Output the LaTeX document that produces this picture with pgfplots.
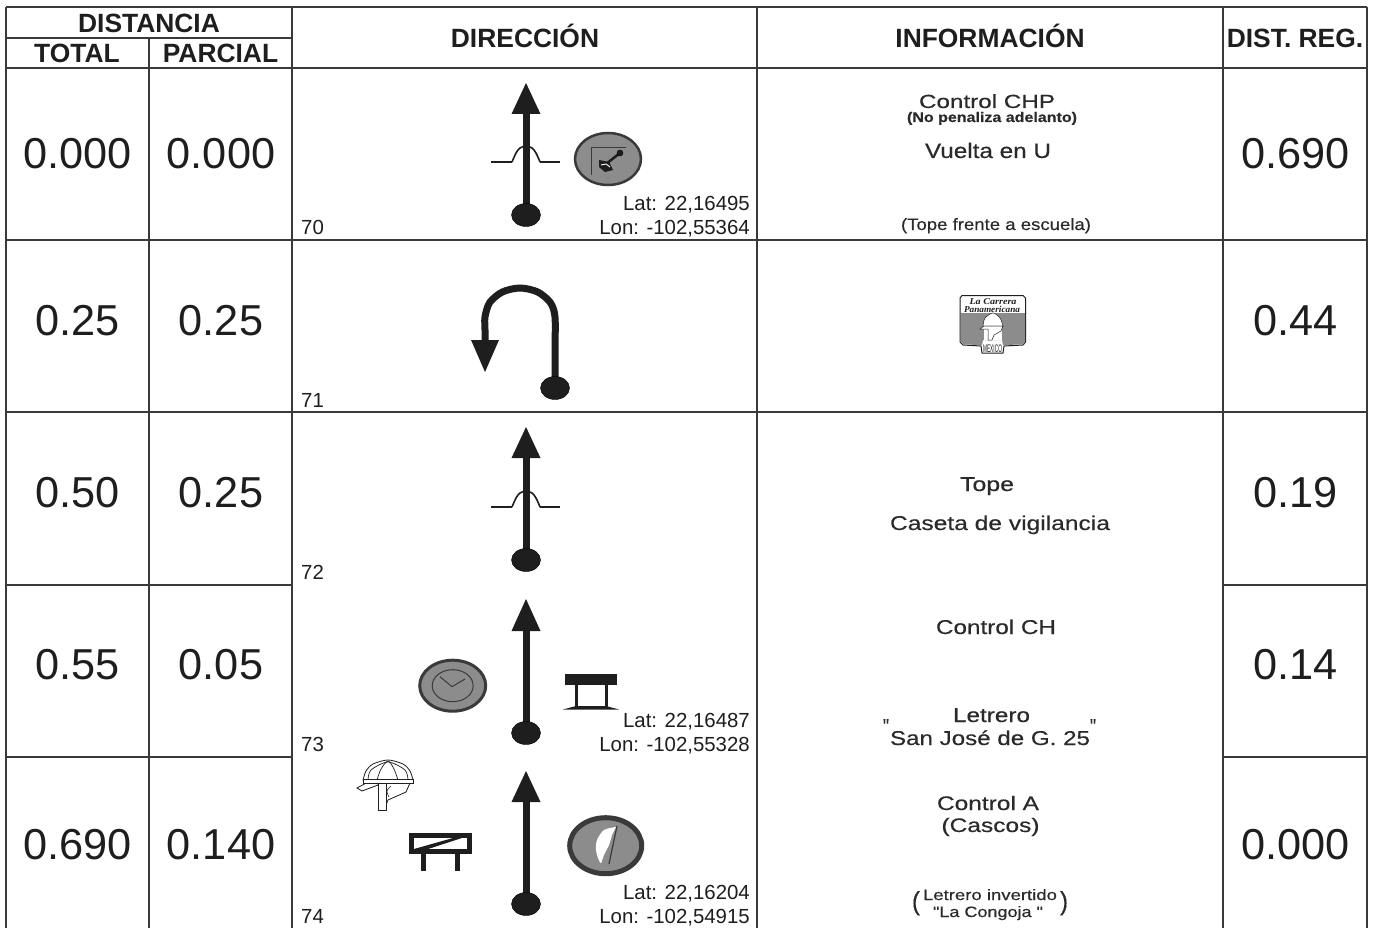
\documentclass[border=0pt]{standalone}
\usepackage{pgfplots}
\usepackage{graphicx}
\usepackage{fontspec}
\setmainfont{Liberation Sans}
\newfontfamily\serifit{Liberation Serif}
\newfontfamily\medf[FakeBold=0.35]{Liberation Sans}
\pgfplotsset{compat=1.18}
\definecolor{gridc}{HTML}{3A3A3A}
\definecolor{ink}{HTML}{1E1E1E}
\definecolor{badge}{HTML}{8C8C8C}
\definecolor{txt}{HTML}{2A2A2A}
\newcommand{\rbSeg}[1]{\addplot[gridc,line width=1.4pt] coordinates {#1};}
\newcommand{\rbFill}[2][]{\addplot[fill=ink,draw=none,#1] coordinates {#2} --cycle;}
\newcommand{\rbLine}[2][]{\addplot[ink,line width=1pt,#1] coordinates {#2};}
\newcommand{\rbBlob}[2]{\addplot[only marks,mark=*,mark size=11.5pt,mark options={xscale=1.26,fill=ink,draw=none}] coordinates {(#1,#2)};}
\newcommand{\rbOval}[6]{\addplot[only marks,mark=*,mark size=#4pt,mark options={xscale=#3/#4,fill=#5,draw=gridc,line width=#6pt}] coordinates {(#1,#2)};}
\newcommand{\rbBig}[3]{\node[anchor=base,inner sep=0pt,text=ink,font=\fontsize{43.3}{43.3}\selectfont] at (axis cs:#1,#2) {#3};}
\newcommand{\rbHd}[3]{\node[anchor=base,inner sep=0pt,text=ink,font=\fontsize{26.4}{26.4}\selectfont\bfseries] at (axis cs:#1,#2) {#3};}
\newcommand{\rbSm}[3]{\node[anchor=base east,inner sep=0pt,text=ink,font=\fontsize{20.4}{20.4}\selectfont] at (axis cs:#1,#2) {#3};}
\newcommand{\rbId}[2]{\node[anchor=base west,inner sep=0pt,text=ink,font=\fontsize{20.4}{20.4}\selectfont] at (axis cs:301,#1) {#2};}
% x, baseline, target width, size, text
\newcommand{\rbInfo}[5]{\node[anchor=base,inner sep=0pt,text=txt] at (axis cs:#1,#2) {\resizebox{#3pt}{\height}{\fontsize{#4}{#4}\selectfont\medf #5}};}
\begin{document}
\begin{tikzpicture}
\begin{axis}[scale only axis,width=1375pt,height=928pt,xmin=0,xmax=1375,ymin=0,ymax=928,y dir=reverse,hide axis,clip=true,clip mode=individual]
\addplot[fill=white,draw=none] coordinates {(0,0)(1375,0)(1375,928)(0,928)} --cycle;
% grid
\rbSeg{(6,7)(1367,7)}
\rbSeg{(6,38)(292,38)}
\rbSeg{(6,68)(1367,68)}
\rbSeg{(6,240)(1367,240)}
\rbSeg{(6,412)(1367,412)}
\rbSeg{(6,585)(292,585)}
\rbSeg{(1223,585)(1367,585)}
\rbSeg{(6,757)(292,757)}
\rbSeg{(1223,757)(1367,757)}
\rbSeg{(6,7)(6,928)}
\rbSeg{(149,38)(149,928)}
\rbSeg{(292,7)(292,928)}
\rbSeg{(757,7)(757,928)}
\rbSeg{(1223,7)(1223,928)}
\rbSeg{(1367,7)(1367,928)}
% headers
\rbHd{149}{33}{DISTANCIA}
\rbHd{77}{63}{TOTAL}
\rbHd{220.5}{63}{PARCIAL}
\rbHd{525}{48}{DIRECCIÓN}
\rbHd{990}{48}{INFORMACIÓN}
\rbHd{1295}{48}{DIST. REG.}
% numbers
\rbBig{77.5}{168}{0.000}\rbBig{221}{168}{0.000}\rbBig{1295.5}{168}{0.690}
\rbBig{77.5}{335}{0.25}\rbBig{221}{335}{0.25}\rbBig{1295.5}{335}{0.44}
\rbBig{77.5}{507}{0.50}\rbBig{221}{507}{0.25}\rbBig{1295.5}{507}{0.19}
\rbBig{77.5}{679}{0.55}\rbBig{221}{679}{0.05}\rbBig{1295.5}{679}{0.14}
\rbBig{77.5}{859}{0.690}\rbBig{221}{859}{0.140}\rbBig{1295.5}{859}{0.000}
% row ids
\rbId{234}{70}\rbId{407}{71}\rbId{579}{72}\rbId{751}{73}\rbId{923}{74}
% coordinates
\rbSm{750}{210}{Lat: 22,16495}\rbSm{750}{234}{Lon: -102,55364}
\rbSm{750}{727}{Lat: 22,16487}\rbSm{750}{751}{Lon: -102,55328}
\rbSm{750}{899}{Lat: 22,16204}\rbSm{750}{923}{Lon: -102,54915}
% arrows
\rbFill{(526,83)(540.5,114)(511.5,114)}
\rbLine[line width=7pt]{(526,113)(526,215)}
\rbBlob{526}{215}
\rbLine[line width=1.6pt]{(491,162)(512,162)}
\rbLine[line width=1.6pt,smooth]{(512,162)(516,153)(520,148)(526,146)(532,148)(536,153)(540,162)}
\rbLine[line width=1.6pt]{(540,162)(560,162)}
\rbFill{(526,427)(540.5,458)(511.5,458)}
\rbLine[line width=7pt]{(526,457)(526,560)}
\rbBlob{526}{560}
\rbLine[line width=1.6pt]{(491,507)(512,507)}
\rbLine[line width=1.6pt,smooth]{(512,507)(516,498)(520,493)(526,491)(532,493)(536,498)(540,507)}
\rbLine[line width=1.6pt]{(540,507)(560,507)}
\rbFill{(526,599)(540.5,631)(511.5,631)}
\rbLine[line width=7pt]{(526,630)(526,733)}
\rbBlob{526}{733}
\rbFill{(526,771)(540.5,802)(511.5,802)}
\rbLine[line width=7pt]{(526,801)(526,904)}
\rbBlob{526}{904}
% U-turn
\rbLine[line width=7pt,smooth]{(555,388)(555,350)(555,317)(550.3,302.5)(537.5,291.9)(520,288)(502.5,291.9)(489.7,302.5)(485,317)(485,330)(485,342)}
\rbFill{(471,340)(499,340)(485,372)}
\rbBlob{555}{388}
% gear badge
\rbOval{608}{159}{33}{26}{badge}{2.5}
\rbLine[gridc,line width=0.8pt]{(591.5,175)(591.5,147)(626,147)}
\rbLine[line width=2.5pt]{(606,164)(620,153)}
\addplot[only marks,mark=*,mark size=3pt,mark options={fill=ink,draw=none}] coordinates {(620,153)};
\rbFill{(599,160)(609,162)(613,170)(605,172)(599,167)}
\rbLine[white,line width=0.9pt]{(601,165)(606,164)(610,167)}
% clock badge
\rbOval{452.7}{685.7}{33}{25.5}{badge}{3}
\addplot[only marks,mark=*,mark size=16pt,mark options={xscale=1.28,fill=badge,draw=gridc,line width=1pt}] coordinates {(452.7,685.7)};
\rbLine[gridc,line width=1pt]{(440,676.7)(452,686.7)(465,679)}
% table icon
\rbFill{(565,674)(617,674)(617,685)(565,685)}
\rbLine[line width=3pt]{(576,685)(576,707)}
\rbLine[line width=3pt]{(606,685)(606,707)}
\rbFill{(563,709.5)(576,706)(606,706)(619,709.5)}
% flag badge
\rbOval{605.7}{845.7}{36}{28}{badge}{5}
\rbFill[fill=white,smooth]{(616,827)(604,830)(597,840)(596,850)(598,858)(601,863)(604,855)(609,845)(612,835)}
\rbLine[gridc,line width=1.2pt]{(617,826)(609,864)}
% barrier
\rbFill[fill=none,draw=ink,line width=5pt]{(411.5,835.5)(469.5,835.5)(469.5,851.5)(411.5,851.5)}
\rbFill{(414,849)(460,836)(468,836)(422,851)}
\rbLine[line width=5pt]{(423,853)(423,871)}
\rbLine[line width=5pt]{(457,853)(457,871)}
% helmet
\rbFill[fill=white,draw=ink,line width=0.8pt,smooth]{(363,780)(366,771)(373,764)(388,760)(403,764)(410,771)(413,780)}
\rbLine[line width=0.7pt,smooth]{(368,780)(371,770)(388,762)(405,770)(408,780)}
\rbLine[line width=0.7pt,smooth]{(377,780)(381,769)(388,761)(394,769)(398,780)}
\rbFill[fill=white,draw=ink,line width=0.8pt]{(357,788)(368,782)(378,783)(378,785)(362,791)}
\rbFill[fill=white,draw=ink,line width=0.8pt]{(386,783)(410,783)(406,792)(388,800)(386,805)}
\rbFill[fill=white,draw=ink,line width=0.8pt]{(378,783)(386,783)(386,810)(378,810)}
\rbFill[fill=white,draw=ink,line width=0.8pt]{(363,779)(413,779)(413,783)(363,783)}
\rbLine[line width=0.6pt,smooth]{(391,786)(387,791)(389,797)}
% logo
\rbFill[fill=white,draw=ink,line width=1pt]{(962,295.5)(1023,295.5)(1025.5,298)(1025.5,342)(1023,345)(1004,346)(1003,353)(982,353)(981,346)(963,345)(960,342)(960,298)}
\rbFill[fill=badge,draw=none]{(961,313)(1025,313)(1025,342)(1023,344.5)(1003,345)(1002,340)(983,340)(982,345)(963,344.5)(961,342)}
\node[anchor=base,inner sep=0pt,text=ink] at (axis cs:993,304) {\resizebox{47pt}{\height}{\fontsize{9}{9}\serifit\itshape\bfseries La Carrera}};
\node[anchor=base,inner sep=0pt,text=ink] at (axis cs:992,312) {\resizebox{56pt}{\height}{\fontsize{9}{9}\serifit\itshape\bfseries Panamericana}};
\rbFill[fill=white,draw=ink,line width=0.5pt,smooth]{(983,326)(985,318)(993,313)(1000,318)(1003,326)}
\rbFill[fill=white,draw=none]{(984,326)(1002,326)(1002,340)(984,340)}
\rbFill[fill=white,draw=ink,line width=0.5pt]{(980,329)(984,326)(1003,326)(1001,331)(994,335)(992,340)(988,340)(988,329)}
\node[anchor=base,inner sep=0pt,text=ink] at (axis cs:992.5,352) {\resizebox{19pt}{\height}{\fontsize{11}{11}\selectfont MEXICO}};
% info text
\rbInfo{987}{108}{136}{19}{Control CHP}
\rbInfo{992}{122}{170}{14}{\bfseries (No penaliza adelanto)}
\rbInfo{988}{158}{126}{21}{Vuelta en U}
\rbInfo{996}{230}{190}{16.5}{(Tope frente a escuela)}
\rbInfo{987}{491}{54}{20}{Tope}
\rbInfo{1000}{530}{220}{20}{Caseta de vigilancia}
\rbInfo{996}{634}{120}{20}{Control CH}
\rbInfo{991.5}{722}{77}{20}{Letrero}
\rbInfo{990}{745}{200}{20}{San José de G. 25}
\rbInfo{886}{733}{6}{20}{"}
\rbInfo{1093}{733}{6}{20}{"}
\rbInfo{988}{810}{102}{19.6}{Control A}
\rbInfo{990.5}{832}{98}{19.6}{(Cascos)}
\rbInfo{990}{900}{134}{15}{Letrero invertido}
\rbInfo{988}{917}{110}{15}{"La Congoja "}
\rbInfo{916}{910}{8}{26}{(}
\rbInfo{1064}{910}{8}{26}{)}
\end{axis}
\end{tikzpicture}
\end{document}
